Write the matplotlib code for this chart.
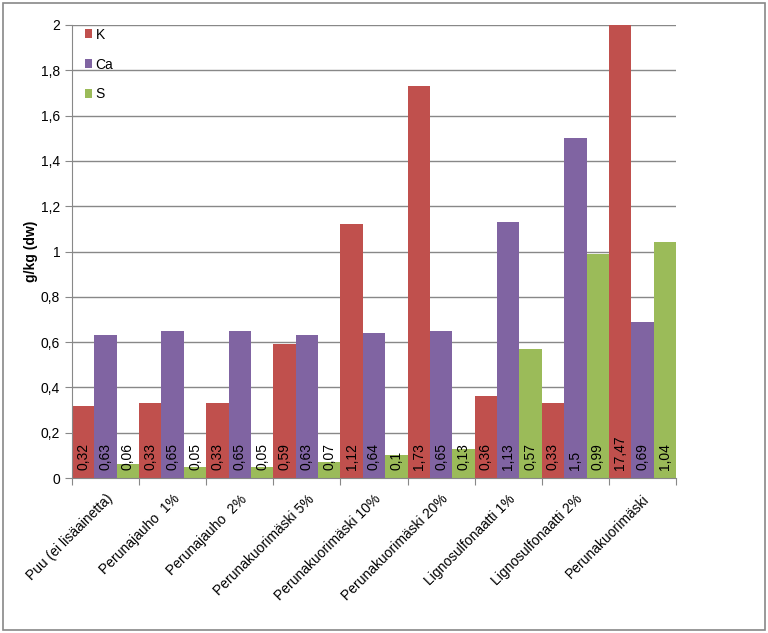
import matplotlib
matplotlib.use("Agg")
import matplotlib.pyplot as plt
import matplotlib.transforms as mtransforms
from matplotlib.patches import Rectangle
import numpy as np

plt.rcParams['font.family'] = ['Liberation Sans', 'DejaVu Sans']

categories = ["Puu (ei lisäainetta)", "Perunajauho  1%", "Perunajauho  2%",
              "Perunakuorimäski 5%", "Perunakuorimäski 10%", "Perunakuorimäski 20%",
              "Lignosulfonaatti 1%", "Lignosulfonaatti 2%", "Perunakuorimäski"]
K = [0.32, 0.33, 0.33, 0.59, 1.12, 1.73, 0.36, 0.33, 17.47]
Ca = [0.63, 0.65, 0.65, 0.63, 0.64, 0.65, 1.13, 1.5, 0.69]
S = [0.06, 0.05, 0.05, 0.07, 0.1, 0.13, 0.57, 0.99, 1.04]
series = [("K", K, "#C0504D"), ("Ca", Ca, "#8064A2"), ("S", S, "#9BBB59")]
yticks = [0, 0.2, 0.4, 0.6, 0.8, 1.0, 1.2, 1.4, 1.6, 1.8, 2.0]
ytick_labels = ["0", "0,2", "0,4", "0,6", "0,8", "1", "1,2", "1,4", "1,6", "1,8", "2"]

def fmt(v):
    s = ("%g" % v).replace(".", ",")
    return s

fig = plt.figure(figsize=(7.68, 6.33), dpi=100)
fig.patches.append(Rectangle((3/768, 3/633), 762/768, 627/633, transform=fig.transFigure,
                             fill=False, edgecolor="#888888", linewidth=1.2))
ax = fig.add_axes([72/768, 1-478/633, 604/768, 453/633])

x = np.arange(len(categories))
w = 1/3
handles = []
for i, (name, vals, col) in enumerate(series):
    pos = x - 0.5 + w/2 + i*w
    b = ax.bar(pos, vals, width=w, color=col, label=name, linewidth=0)
    handles.append(b)
    trans = mtransforms.offset_copy(ax.transData, fig=fig, x=0, y=8, units='dots')
    for p, v in zip(pos, vals):
        ax.text(p, 0, fmt(v), rotation=90, ha='center', va='bottom', fontsize=10,
                transform=trans, color='black')

ax.set_xlim(-0.5, len(categories)-0.5)
ax.set_ylim(0, 2)
ax.set_yticks(yticks)
ax.set_yticklabels(ytick_labels, fontsize=10)
ax.set_xticks(np.arange(len(categories)+1) - 0.5, minor=False)
ax.set_xticklabels([])
ax.set_xticks(x, minor=True)
ax.set_xticklabels(categories, minor=True, rotation=45, ha='right', rotation_mode='anchor', fontsize=10)
ax.tick_params(axis='x', which='minor', length=0, pad=10)
ax.tick_params(axis='x', which='major', length=5, color='#888888', direction='out')
ax.tick_params(axis='y', length=5, color='#888888', direction='out')
ax.grid(axis='y', color='#888888', linewidth=1)
ax.set_axisbelow(True)
for s in ['top', 'right']:
    ax.spines[s].set_visible(False)
for s in ['left', 'bottom']:
    ax.spines[s].set_color('#888888')
ax.set_ylabel("g/kg (dw)", fontweight='bold', fontsize=10, labelpad=2)

leg = ax.legend(loc='upper left', bbox_to_anchor=(0.0, 1.022), frameon=False, fontsize=10,
                handlelength=0.55, handleheight=0.55, handletextpad=0.25, labelspacing=1.15)

fig.savefig("out.png", dpi=100)
